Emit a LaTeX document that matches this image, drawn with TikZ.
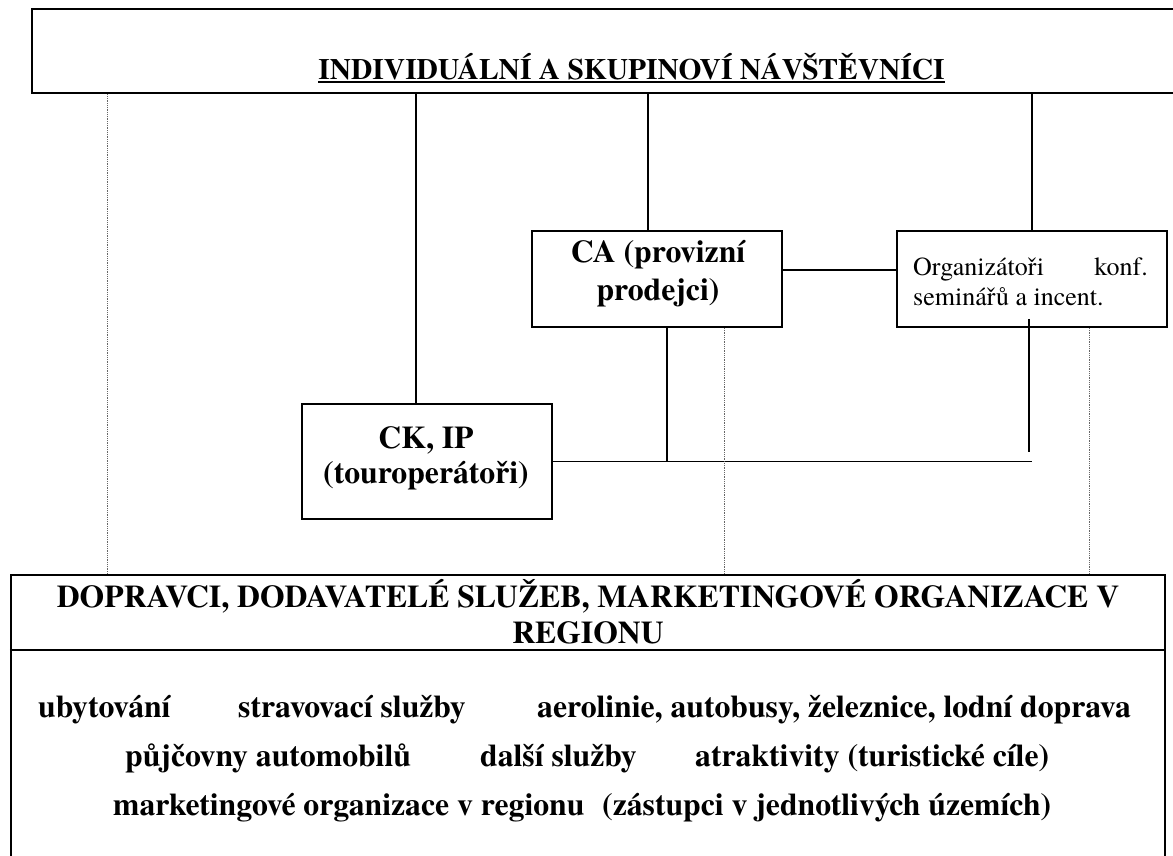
\documentclass[tikz,border=0pt]{standalone}
\usepackage{fontspec}
\setmainfont{texgyretermes}[Extension=.otf, UprightFont=*-regular, BoldFont=*-bold, ItalicFont=*-italic, BoldItalicFont=*-bolditalic]
\usetikzlibrary{calc}
\tikzset{
  bigbox/.style={draw, line width=2.4pt, rectangle, inner sep=0pt},
  smallbox/.style={draw, line width=1.9pt, rectangle, inner sep=0pt},
  conn/.style={line width=1.6pt},
  dotline/.style={line width=0.8pt, black!60, dash pattern=on 0.9pt off 0.9pt},
  btxt/.style={inner sep=0pt, font=\bfseries\fontsize{31.7}{38}\selectfont},
  ttxt/.style={inner sep=0pt, font=\bfseries\fontsize{29.5}{35}\selectfont},
  rtxt/.style={inner sep=0pt, font=\fontsize{26}{30}\selectfont},
}
\begin{document}
\begin{tikzpicture}[x=1pt,y=-1pt]
\clip (0,0) rectangle (1173,855);
\fill[white] (0,0) rectangle (1173,855);

% boxes
\node[bigbox, minimum width=1158pt, minimum height=84pt] (top) at (611,51) {};
\node[smallbox, minimum width=250pt, minimum height=96pt] (ca) at (657,279) {};
\node[smallbox, minimum width=270pt, minimum height=96pt] (org) at (1032,279) {};
\node[smallbox, minimum width=250pt, minimum height=115pt] (ck) at (427,461.5) {};
\node[bigbox, line width=2.1pt, minimum width=1154pt, minimum height=305pt] (bot) at (588,727.5) {};

% texts
\node[ttxt, anchor=base] (title) at (631.5,79) {INDIVIDUÁLNÍ A SKUPINOVÍ NÁVŠTĚVNÍCI};
\draw[line width=2.6pt] ($(title.base west)+(0,2.8)$) -- ($(title.base east)+(0,2.8)$);

\node[btxt, anchor=base] (ca1) at (658,262) {CA (provizní};
\node[btxt, anchor=base] (ca2) at (658,300) {prodejci)};

\node[rtxt, anchor=base west] (org1) at (913,275) {Organizátoři};
\node[rtxt, anchor=base east] (org2) at (1148,275) {konf.};
\node[rtxt, anchor=base west] (org3) at (913,305) {seminářů a incent.};

\node[btxt, anchor=base] (ck1) at (426,448) {CK, IP};
\node[btxt, anchor=base] (ck2) at (426,483) {(touroperátoři)};

\node[btxt, anchor=base] (hd1) at (588,607) {DOPRAVCI, DODAVATELÉ SLUŽEB, MARKETINGOVÉ ORGANIZACE V};
\node[btxt, anchor=base] (hd2) at (588,643) {REGIONU};

\node[btxt, anchor=base west] (b1) at (38,717) {ubytování};
\node[btxt, anchor=base west] (b2) at (238,717) {stravovací služby};
\node[btxt, anchor=base west] (b3) at (537,717) {aerolinie, autobusy, železnice, lodní doprava};
\node[btxt, anchor=base west] (b4) at (125,766) {půjčovny automobilů};
\node[btxt, anchor=base west] (b5) at (480,766) {další služby};
\node[btxt, anchor=base west] (b6) at (695,766) {atraktivity (turistické cíle)};
\node[btxt, anchor=base west] (b7) at (113,815) {marketingové organizace v regionu};
\node[btxt, anchor=base west] (b8) at (602,815) {(zástupci v jednotlivých územích)};

% separator in bottom box
\draw[line width=2.1pt] ($(bot.north west)+(0,76)$) -- ($(bot.north east)+(0,76)$);

% solid connectors
\draw[conn] ([xshift=-11pt]ck.north) -- ([xshift=-11pt]ck.north |- top.south);
\draw[conn] ([xshift=-9pt]ca.north) -- ([xshift=-9pt]ca.north |- top.south);
\draw[conn] (org.north) -- (org.north |- top.south);
\draw[conn] ([yshift=9pt]ca.east) -- ([yshift=9pt]ca.east -| org.west);
\draw[conn] ([xshift=10pt]ca.south) -- ([xshift=10pt]ca.south |- ck.east);
\draw[conn] (ck.east) -- (ck.east -| org.south);
\draw[conn] ($(org.south)+(-3,-9)$) -- ($(org.south |- ck.east)+(-3,-10)$);

% dotted connectors
\draw[dotline] ($(top.south west)+(77,0)$) -- ($(top.south west |- bot.north)+(77,0)$);
\draw[dotline] ($(ca.south)+(67,0)$) -- ($(ca.south |- bot.north)+(67,0)$);
\draw[dotline] ($(org.south)+(57,0)$) -- ($(org.south |- bot.north)+(57,0)$);
\end{tikzpicture}
\end{document}
